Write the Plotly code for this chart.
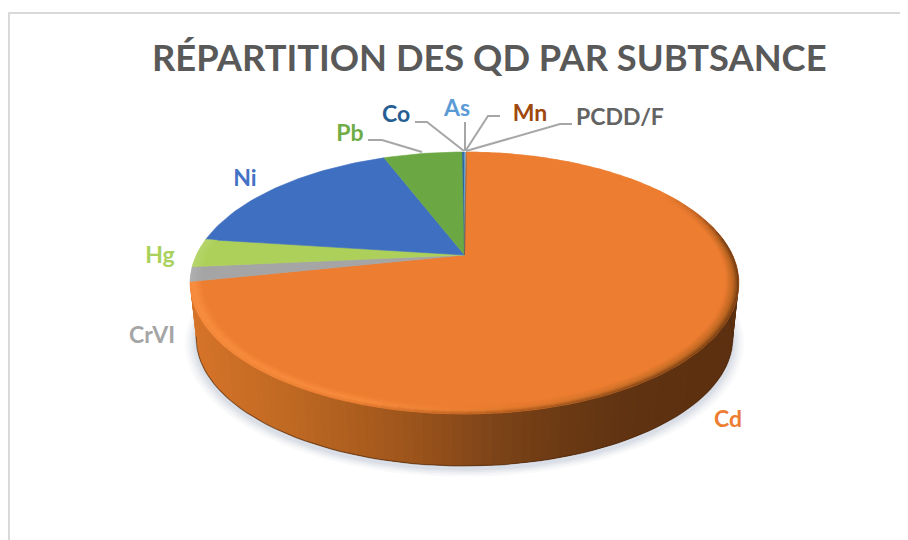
import math
import plotly.graph_objects as go

# ---------- data ----------
categories = ["Cd", "CrVI", "Hg", "Ni", "Pb", "Co", "As", "Mn", "PCDD/F"]
values = [71.6, 1.8, 3.5, 17.1, 5.7, 0.12, 0.1, 0.05, 0.03]
title_text = "RÉPARTITION DES QD PAR SUBTSANCE"

# ---------- styles ----------
slice_colors = ["#ED7D31", "#A5A5A5", "#ADD05A", "#3F6FC1", "#6BA844", "#255E91", "#5B9BD5", "#9E480E", "#636363"]
label_colors = ["#ED7D31", "#A5A5A5", "#A9D15B", "#4472C4", "#70AD47", "#255E91", "#5B9BD5", "#9E480E", "#636363"]
label_x = [728, 152, 160, 245, 350, 396, 457, 530, 620]
label_y = [421, 337, 257, 180, 135, 116, 110, 115, 119]
leader_x = {"Pb": [368, 382, 422], "Co": [415, 427, 464], "As": [465, 465], "Mn": [500, 488, 466], "PCDD/F": [572, 560, 466]}
leader_y = {"Pb": [140, 140, 152], "Co": [122, 122, 151], "As": [122, 151], "Mn": [116, 116, 150], "PCDD/F": [124, 124, 151]}

# the page has an 8px body margin: axes are set so that data units equal window pixels
PAGE_MARGIN = 8
START_DEG = 0.5
CX, CY = 464.5, 255.0
K, S, R = 0.2137, 125.0, 268.0
BASE_SCALE, BASE_CY = 0.978, 310.5


def project(theta_deg, r=1.0, base=False):
    t = math.radians(theta_deg)
    X, Y = r * math.sin(t), r * math.cos(t)
    d = 1 + K * Y
    f = BASE_SCALE if base else 1.0
    return CX + f * R * X / d, (BASE_CY if base else CY) - f * S * Y / d


def hex2rgb(h):
    return tuple(int(h[i:i + 2], 16) for i in (1, 3, 5))


def ramp(stops, v):
    if v <= stops[0][0]:
        return hex2rgb(stops[0][1])
    for (a, ca), (b, cb) in zip(stops, stops[1:]):
        if v <= b:
            u = (v - a) / (b - a)
            A, B = hex2rgb(ca), hex2rgb(cb)
            return tuple(A[i] + (B[i] - A[i]) * u for i in range(3))
    return hex2rgb(stops[-1][1])


def css(c):
    return "rgb(%d,%d,%d)" % tuple(round(x) for x in c)


def mix(a, b, u):
    return tuple(a[i] + (b[i] - a[i]) * u for i in range(3))


fig = go.Figure()


def poly(xs, ys, color, lw=0.6, line_color=None):
    fig.add_trace(go.Scatter(x=xs, y=ys, mode="lines", fill="toself", fillcolor=color,
                             line=dict(color=line_color or color, width=lw),
                             hoverinfo="skip", showlegend=False))


# frame
fig.add_trace(go.Scatter(x=[9, 9, 908], y=[540, 13, 13], mode="lines",
                         line=dict(color="#D9D9D9", width=2), hoverinfo="skip", showlegend=False))

# slice boundaries (clockwise from the top)
total = sum(values)
edges = [START_DEG]
for v in values:
    edges.append(edges[-1] + 360.0 * v / total)

# soft shadow around the base
for grow, alpha in [(1.04, 0.035), (1.032, 0.04), (1.024, 0.05), (1.016, 0.06), (1.008, 0.07)]:
    pts = [project(a * 3.0, grow, base=True) for a in range(121)]
    poly([p[0] for p in pts], [p[1] + 3 for p in pts], "rgba(105,115,150,%.3f)" % alpha, lw=0,
         line_color="rgba(0,0,0,0)")

# side wall of the visible front slice: strips overlap the next ones, painted in order, so no seams
side_stops = [(190, "#D67429"), (300, "#BC6722"), (400, "#A0561C"), (480, "#824619"),
              (560, "#6C3A14"), (640, "#5F3211"), (738, "#5C3010")]
n_side = 110
a0, a1 = 72.0, edges[1]
step = (a1 - a0) / n_side
for i in range(n_side):
    t1 = a0 + step * i
    t2 = min(a1, t1 + 3 * step)
    tm = t1 + step / 2
    ts = [t1, t1 + (t2 - t1) / 3, t1 + 2 * (t2 - t1) / 3, t2]
    top = [project(t) for t in ts]
    bot = [project(t, base=True) for t in reversed(ts)]
    pts = top + bot + [top[0]]
    poly([p[0] for p in pts], [p[1] for p in pts], css(ramp(side_stops, project(tm)[0])), lw=0,
         line_color="rgba(0,0,0,0)")

# dark lower edge of the wall
low = [project(a0 + (a1 - a0) * i / 100, base=True) for i in range(101)]
fig.add_trace(go.Scatter(x=[p[0] for p in low], y=[p[1] for p in low], mode="lines",
                         line=dict(color="rgba(75,40,15,0.55)", width=1.2),
                         hoverinfo="skip", showlegend=False))

# top-face wedges
for i, c in enumerate(slice_colors):
    a, b = edges[i], edges[i + 1]
    n = max(2, int((b - a) / 1.5))
    pts = [project(a + (b - a) * j / n) for j in range(n + 1)]
    lw = 0.3 if (b - a) < 1 else 0.6
    poly([CX] + [p[0] for p in pts] + [CX], [CY] + [p[1] for p in pts] + [CY], c, lw=lw)

# bevel on the rim: a soft ramp from face colour to edge colour
outer_stops = [(-1.0, "#F88D3F"), (-0.35, "#E87C31"), (0.1, "#A9591C"), (0.55, "#7E4316"), (1.0, "#6B3812")]
mid_stops = [(-1.0, "#F88D3F"), (-0.3, "#F98E3F"), (0.1, "#E47B2E"), (0.55, "#C86F27"), (1.0, "#B5621F")]
ring_edges = [0.955, 0.962, 0.969, 0.976, 0.982, 0.988, 0.994, 1.0]
for idx in range(3):
    a, b = edges[idx], edges[idx + 1]
    base_c = hex2rgb(slice_colors[idx])
    n = max(2, int((b - a) / 3.0))
    for lev in range(len(ring_edges) - 1):
        r1, r2 = ring_edges[lev], ring_edges[lev + 1]
        u = (lev + 0.5) / (len(ring_edges) - 1)
        for j in range(n):
            t1 = a + (b - a) * j / n
            t2 = a + (b - a) * (j + 1) / n
            tm = math.radians((t1 + t2) / 2)
            X, Y = math.sin(tm), math.cos(tm)
            amp = max(0.0, min(1.0, (0.55 - Y) / 0.45))
            if idx == 0:
                mid = ramp(mid_stops, X)
                if u < 0.6:
                    target = mix(base_c, mid, u / 0.6)
                else:
                    target = mix(mid, ramp(outer_stops, X), (u - 0.6) / 0.4)
            else:
                target = mix(base_c, (255, 255, 255), 0.12 * u)
            col = mix(base_c, target, amp)
            p = [project(t1, r1), project(t2, r1), project(t2, r2), project(t1, r2)]
            poly([q[0] for q in p] + [p[0][0]], [q[1] for q in p] + [p[0][1]], css(col), lw=0.4)

# leader lines
for name in leader_x:
    fig.add_trace(go.Scatter(x=leader_x[name], y=leader_y[name], mode="lines",
                             line=dict(color="#A6A6A6", width=2),
                             hoverinfo="skip", showlegend=False))

# labels
fig.add_trace(go.Scatter(x=label_x, y=label_y, mode="text", text=categories, textposition="middle center",
                         textfont=dict(family="Lato", size=23, color=label_colors, weight="bold"),
                         hoverinfo="skip", showlegend=False))

fig.update_layout(
    width=908 - PAGE_MARGIN, height=540 - PAGE_MARGIN, margin=dict(l=0, r=0, t=0, b=0),
    paper_bgcolor="white", plot_bgcolor="white",
    xaxis=dict(range=[PAGE_MARGIN, 908], visible=False, fixedrange=True),
    yaxis=dict(range=[540, PAGE_MARGIN], visible=False, fixedrange=True),
    annotations=[dict(text="<b>" + title_text + "</b>", xref="x", yref="y", x=489, y=57, showarrow=False,
                      xanchor="center", yanchor="middle",
                      font=dict(family="Lato", size=36.3, color="#595959"))],
)
fig.write_html("out.html", config={"displayModeBar": False})
